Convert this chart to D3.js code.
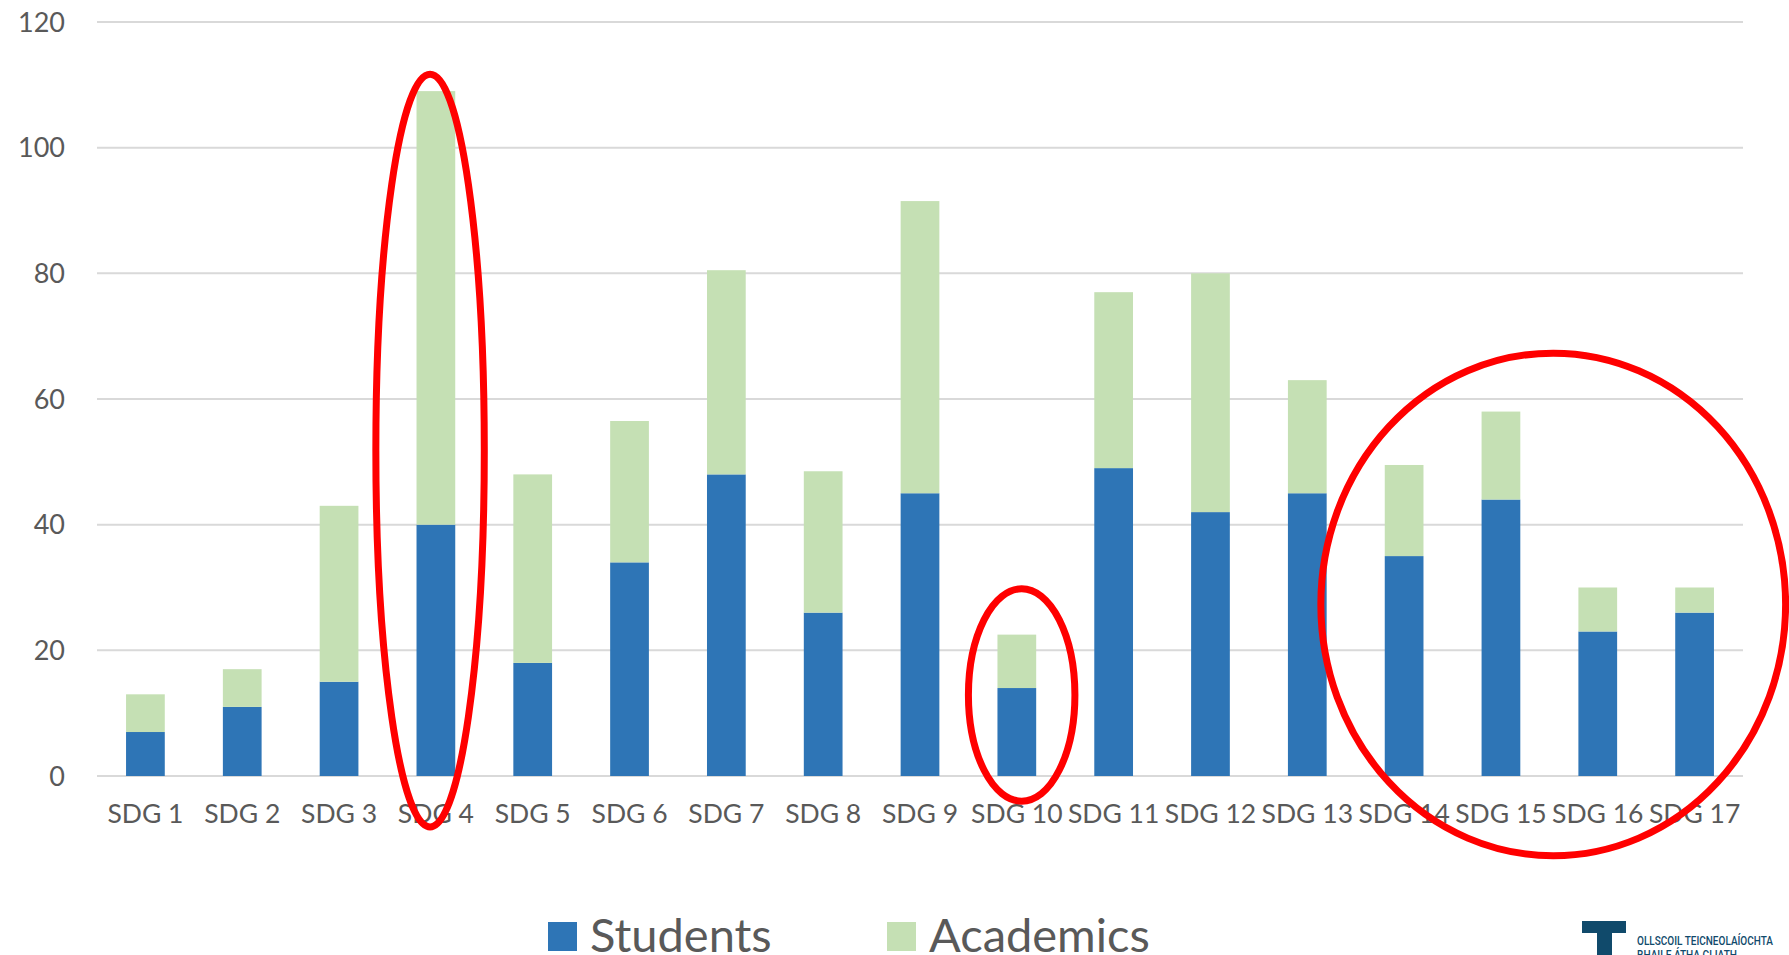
<!doctype html>
<html lang="en">
  <head>
    <meta charset="utf-8">
    <title>SDG engagement: students and academics</title>
    <script src="https://d3js.org/d3.v7.min.js"></script>
    <style>
      body { margin: 0; background: #fff; }
      text { font-family: Lato, "Open Sans", sans-serif; fill: #595959; }
    </style>
  </head>

  <body>
    <svg width="1789" height="955"></svg>

    <script>
      // data
      var categories = ["SDG 1", "SDG 2", "SDG 3", "SDG 4", "SDG 5", "SDG 6", "SDG 7", "SDG 8", "SDG 9",
                        "SDG 10", "SDG 11", "SDG 12", "SDG 13", "SDG 14", "SDG 15", "SDG 16", "SDG 17"];
      var students  = [7, 11, 15, 40, 18, 34, 48, 26, 45, 14, 49, 42, 45, 35, 44, 23, 26];
      var academics = [6, 6, 28, 69, 30, 22.5, 32.5, 22.5, 46.5, 8.5, 28, 38, 18, 14.5, 14, 7, 4];
      var yTicks = [0, 20, 40, 60, 80, 100, 120];
      var seriesNames = ["Students", "Academics"];
      var colors = ["#2E75B6", "#C5E0B4"];

      // red hand-drawn highlight ellipses (centre category, offset and radius in band steps, extent in values)
      var highlights = [
        { cat: "SDG 4",  dx: -0.06, rx: 0.56, top: 111.7, bottom: -8.1 },
        { cat: "SDG 10", dx: 0.05,  rx: 0.55, top: 29.8,  bottom: -4.0 },
        { cat: "SDG 15", dx: 0.54,  rx: 2.40, top: 67.3,  bottom: -12.7 }
      ];

      var svg = d3.select('svg');
      var plotLeft = 97, plotRight = 1743, plotTop = 22, plotBottom = 776;

      var x = d3.scaleBand().domain(categories).range([plotLeft, plotRight])
          .paddingInner(0.6).paddingOuter(0.3);
      var y = d3.scaleLinear().domain([0, 120]).range([plotBottom, plotTop]);

      // gridlines
      svg.append('g').selectAll('line').data(yTicks).enter()
        .append('line')
          .attr('x1', plotLeft).attr('x2', plotRight)
          .attr('y1', function(d){ return y(d); })
          .attr('y2', function(d){ return y(d); })
          .attr('stroke', '#d9d9d9')
          .attr('stroke-width', 2);

      // y axis labels
      var yAxis = d3.axisLeft(y).tickValues(yTicks).tickSize(0).tickPadding(0);
      var yg = svg.append('g').attr('transform', 'translate(65,0)').call(yAxis);
      yg.select('.domain').remove();
      yg.selectAll('text').style('font-size', '27px').attr('dy', '0.34em');

      // x axis labels
      var xAxis = d3.axisBottom(x).tickSize(0).tickPadding(0);
      var xg = svg.append('g').attr('transform', 'translate(0,' + plotBottom + ')').call(xAxis);
      xg.select('.domain').remove();
      xg.selectAll('text').style('font-size', '26.5px').attr('dy', null).attr('y', 47);

      // stacked bars
      var table = categories.map(function(c, i){
        return { cat: c, Students: students[i], Academics: academics[i] };
      });
      var stacked = d3.stack().keys(seriesNames)(table);

      svg.append('g').selectAll('g').data(stacked).enter()
        .append('g')
          .attr('fill', function(d, i){ return colors[i]; })
        .selectAll('rect').data(function(d){ return d; }).enter()
        .append('rect')
          .attr('x', function(d){ return x(d.data.cat); })
          .attr('width', x.bandwidth())
          .attr('y', function(d){ return y(d[1]); })
          .attr('height', function(d){ return y(d[0]) - y(d[1]); });

      // highlight ellipses
      svg.append('g').selectAll('ellipse').data(highlights).enter()
        .append('ellipse')
          .attr('cx', function(d){ return x(d.cat) + x.bandwidth() / 2 + d.dx * x.step(); })
          .attr('rx', function(d){ return d.rx * x.step(); })
          .attr('cy', function(d){ return (y(d.top) + y(d.bottom)) / 2; })
          .attr('ry', function(d){ return (y(d.bottom) - y(d.top)) / 2; })
          .attr('fill', 'none')
          .attr('stroke', '#ff0000')
          .attr('stroke-width', 7);

      // legend
      var legendX = [548, 887];
      var legend = svg.append('g').selectAll('g').data(seriesNames).enter()
        .append('g')
          .attr('transform', function(d, i){ return 'translate(' + legendX[i] + ',922)'; });
      legend.append('rect')
          .attr('width', 29).attr('height', 29)
          .attr('fill', function(d, i){ return colors[i]; });
      legend.append('text')
          .attr('x', 42).attr('y', 30)
          .style('font-size', '47px')
          .text(function(d){ return d; });

      // institution logo (bottom right)
      var logo = svg.append('g').attr('fill', '#104a6b');
      logo.append('rect').attr('x', 1582).attr('y', 921).attr('width', 44).attr('height', 12);
      logo.append('rect').attr('x', 1597).attr('y', 921).attr('width', 15).attr('height', 40);
      logo.append('text')
          .attr('x', 1637).attr('y', 945)
          .attr('textLength', 136).attr('lengthAdjust', 'spacingAndGlyphs')
          .style('font-family', 'Roboto, sans-serif')
          .style('font-size', '12.5px').style('font-weight', 500).style('fill', '#104a6b')
          .text('OLLSCOIL TEICNEOLAÍOCHTA');
      logo.append('text')
          .attr('x', 1637).attr('y', 959)
          .attr('textLength', 100).attr('lengthAdjust', 'spacingAndGlyphs')
          .style('font-family', 'Roboto, sans-serif')
          .style('font-size', '12.5px').style('font-weight', 500).style('fill', '#104a6b')
          .text('BHAILE ÁTHA CLIATH');
    </script>
  </body>
</html>
